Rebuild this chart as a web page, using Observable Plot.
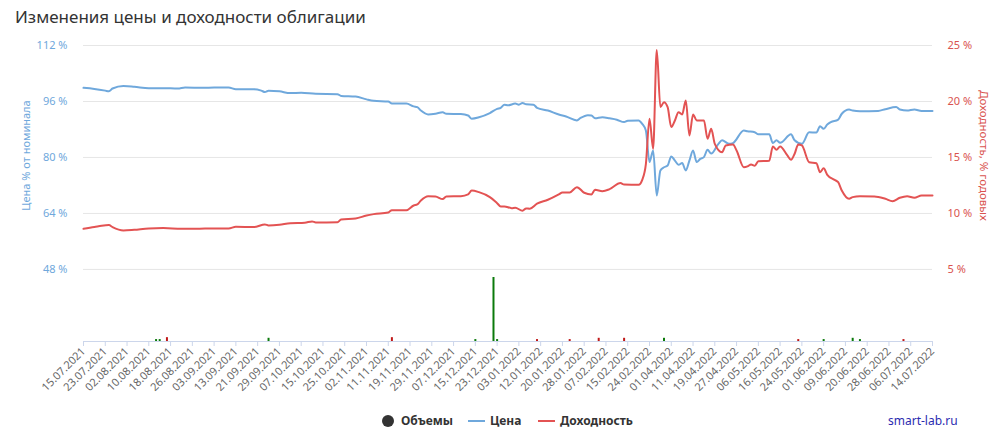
<!DOCTYPE html>
<html><head><meta charset="utf-8">
<script src="https://cdn.jsdelivr.net/npm/d3@7"></script>
<script src="https://cdn.jsdelivr.net/npm/@observablehq/plot@0.6"></script>
<style>
html,body{margin:0;padding:0;background:#fff;width:1004px;height:448px;overflow:hidden;font-family:"Noto Sans",sans-serif;}
#wrap{position:relative;width:1004px;height:448px;}
#title{position:absolute;left:15px;top:5px;font-size:17px;color:#333;white-space:nowrap;}
#chart{position:absolute;left:0;top:36px;}
.leg{position:absolute;top:412px;font-size:12px;font-weight:bold;color:#333;line-height:18px;white-space:nowrap;}
.sym{position:absolute;}
</style></head><body>
<div id="wrap">
<div id="title">Изменения цены и доходности облигации</div>
<div id="chart"></div>
<div id="legend"></div>
</div>
<script>
// ---- data ----
const tickLabels = ["15.07.2021","23.07.2021","02.08.2021","10.08.2021","18.08.2021","26.08.2021","03.09.2021","13.09.2021","21.09.2021","29.09.2021","07.10.2021","15.10.2021","25.10.2021","02.11.2021","11.11.2021","19.11.2021","29.11.2021","07.12.2021","15.12.2021","23.12.2021","03.01.2022","12.01.2022","20.01.2022","28.01.2022","07.02.2022","15.02.2022","24.02.2022","01.04.2022","11.04.2022","19.04.2022","27.04.2022","06.05.2022","16.05.2022","24.05.2022","01.06.2022","09.06.2022","20.06.2022","28.06.2022","06.07.2022","14.07.2022"];
const daysPerLabel = 6;

// trading-day index and price, % of par
const priceDay = [0,3,6,7,8,11,14,18,22,26,28,33,36,40,42,47,49,50,51,54,57,60,64,70,71,75,78,80,84,85,89,91,92,93,95,97,99,100,104,106,107,109,112,114,115,116,117,119,120,121,122,124,125,128,131,133,136,137,139,140,141,143,145,147,149,150,153,154,155,156,157,158,159,160,161,162,163,164,165,166,167,168,169,170,171,172,173,175,176,178,179,182,183,185,186,189,190,191,192,195,196,198,200,202,203,204,205,206,208,209,211,212,214,219,221,224,225,227,229,231,234];
const price = [99.9,99.6,99.1,98.9,99.7,100.4,100.2,99.8,99.8,99.7,100.0,99.9,100.0,100.0,99.5,99.5,99.1,98.7,99.1,98.9,98.4,98.5,98.2,98.1,97.6,97.4,96.6,96.2,96.0,95.4,95.4,94.6,94.4,93.4,92.3,92.5,92.9,92.5,92.4,92.0,91.1,91.5,92.7,93.9,94.2,95.1,94.9,95.4,95.1,95.6,95.2,95.1,94.2,93.4,92.3,91.7,90.6,91.3,92.1,92.0,91.2,91.5,91.2,90.8,90.1,90.5,90.6,89.6,87.7,78.7,82.0,69.1,76.3,77.2,77.7,80.3,79.1,77.9,78.4,76.3,79.1,82.0,78.7,79.6,80.1,82.2,81.1,83.9,84.9,83.9,84.1,87.7,87.5,87.2,86.6,86.6,84.1,84.9,84.2,86.6,84.9,83.9,87.2,87.1,88.9,88.2,89.4,90.1,90.8,92.5,93.7,93.4,93.2,93.3,93.8,94.4,93.7,93.4,93.7,93.3,93.3];

// trading-day index and yield, % per year
const yieldDay = [0,3,5,7,8,11,14,18,22,27,31,36,40,42,47,50,51,54,57,61,63,64,70,71,75,78,80,84,85,89,91,92,93,95,97,99,100,104,106,107,109,112,114,115,116,118,119,121,122,123,125,128,131,132,134,136,138,140,141,143,145,148,149,153,154,155,156,157,158,159,160,161,162,163,164,165,166,167,168,169,171,172,173,174,176,177,179,180,182,183,184,185,186,189,190,191,192,194,195,196,197,198,200,202,203,204,205,207,208,209,211,212,214,218,221,223,225,227,229,231,234];
const yieldPct = [8.63,8.78,8.90,8.96,8.78,8.48,8.54,8.66,8.69,8.63,8.63,8.66,8.66,8.81,8.78,9.02,8.93,8.99,9.13,9.17,9.29,9.20,9.22,9.46,9.55,9.82,9.94,10.09,10.29,10.29,10.71,10.80,11.16,11.54,11.52,11.28,11.52,11.54,11.70,12.05,11.90,11.46,10.92,10.63,10.63,10.47,10.51,10.24,10.45,10.42,10.87,11.22,11.70,11.88,11.88,12.35,11.85,11.70,12.12,11.99,12.17,12.71,12.59,12.56,13.0,14.4,18.46,15.78,24.6,19.5,19.94,19.5,17.71,18.3,19.04,18.84,20.09,16.96,18.84,18.3,18.3,16.67,17.56,16.22,15.47,16.07,16.16,15.63,14.13,14.2,14.38,14.26,14.67,14.71,15.98,15.69,15.98,15.18,14.79,15.33,16.16,16.07,14.58,14.49,13.69,14.04,13.45,13.0,12.79,12.05,11.31,11.46,11.54,11.52,11.31,11.10,11.40,11.54,11.40,11.61,11.61];

// volumes (relative), day index and direction
const volDay = [20,21,23,51,85,108,113,114,125,134,142,149,160,197,204,212,214,226];
const vol    = [3,3,6,5,6,3,100,3,3,3,5,5,5,3,3,5,3,3];
const volUp  = [1,1,0,1,0,1,1,1,0,0,0,0,1,0,1,1,1,0];

const priceTicks = [48,64,80,96,112];
const yieldTicks = [5,10,15,20,25];
const legendLabels = ["Объемы","Цена","Доходность"];

// ---- chart ----
const C_PRICE = "#6fa8dc", C_YIELD = "#e35353", C_YIELD_TXT = "#d9534f";
const Y_MIN = 27.4, Y_MAX = 112;
const yFromYield = r => 32 + 3.2 * r;
const yieldFromY = y => Math.round((y - 32) / 3.2);
const yFromVol = v => Y_MIN + v * 0.183;

const priceData = priceDay.map((d, i) => ({day: d, v: price[i]}));
const yieldData = yieldDay.map((d, i) => ({day: d, v: yieldPct[i]}));
const volData = volDay.map((d, i) => ({day: d, v: vol[i], up: volUp[i] === 1}));
const tickDays = tickLabels.map((_, i) => i * daysPerLabel);

const chart = Plot.plot({
  width: 1004, height: 376,
  marginLeft: 83, marginRight: 72, marginTop: 9, marginBottom: 71,
  style: {fontFamily: "'Noto Sans', sans-serif", fontSize: "11px", background: "transparent", overflow: "visible"},
  x: {domain: [0, tickDays[tickDays.length - 1]], axis: null},
  y: {domain: [Y_MIN, Y_MAX], axis: null},
  marks: [
    Plot.gridY(priceTicks, {stroke: "#e6e6e6", strokeOpacity: 1}),
    Plot.ruleY([Y_MIN], {stroke: "#ccd6eb"}),
    Plot.axisX({ticks: tickDays, tickFormat: d => tickLabels[Math.round(d / daysPerLabel)], tickRotate: -45, tickSize: 5, tickPadding: 3, stroke: "#ccd6eb", fill: "#666", fontSize: 11, label: null}),
    Plot.axisY({anchor: "left", ticks: priceTicks, tickFormat: d => d + " %", tickSize: 0, tickPadding: 16, fill: C_PRICE, fontSize: 11, label: null}),
    Plot.axisY({anchor: "right", ticks: yieldTicks.map(yFromYield), tickFormat: d => yieldFromY(d) + " %", tickSize: 0, tickPadding: 15, fill: C_YIELD_TXT, fontSize: 11, label: null}),
    Plot.ruleX(volData.filter(d => d.up), {x: "day", y1: Y_MIN, y2: d => yFromVol(d.v), stroke: "#0b7a0b", strokeWidth: 2}),
    Plot.ruleX(volData.filter(d => !d.up), {x: "day", y1: Y_MIN, y2: d => yFromVol(d.v), stroke: "#c01818", strokeWidth: 2}),
    Plot.lineY(priceData, {x: "day", y: "v", stroke: C_PRICE, strokeWidth: 2, curve: "monotone-x"}),
    Plot.lineY(yieldData, {x: "day", y: d => yFromYield(d.v), stroke: C_YIELD, strokeWidth: 2, curve: "monotone-x"}),
    Plot.text(["Цена % от номинала"], {frameAnchor: "left", textAnchor: "middle", lineAnchor: "middle", dx: -57, dy: -38, rotate: -90, fill: C_PRICE, fontSize: 11}),
    Plot.text(["Доходность, % годовых"], {frameAnchor: "right", textAnchor: "middle", lineAnchor: "middle", dx: 51, dy: -38, rotate: 90, fill: C_YIELD_TXT, fontSize: 11.5})
  ]
});
document.getElementById("chart").appendChild(chart);

// ---- legend ----
const lg = document.getElementById("legend");
lg.innerHTML =
  `<div class="sym" style="left:382px;top:415px;width:12px;height:12px;border-radius:6px;background:#333"></div>
   <div class="leg" style="left:401px">${legendLabels[0]}</div>
   <div class="sym" style="left:468px;top:420px;width:17px;height:2px;background:${C_PRICE}"></div>
   <div class="leg" style="left:490px">${legendLabels[1]}</div>
   <div class="sym" style="left:538px;top:420px;width:17px;height:2px;background:${C_YIELD}"></div>
   <div class="leg" style="left:560px">${legendLabels[2]}</div>
   <div class="leg" style="left:888px;font-weight:normal;color:#2b2bb0">smart-lab.ru</div>`;
</script>
</body></html>
